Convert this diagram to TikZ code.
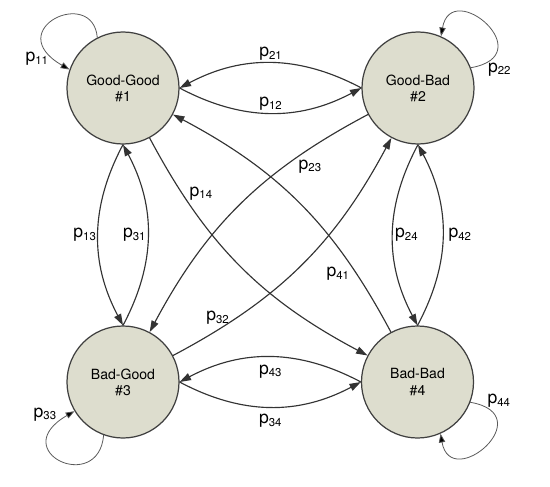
\documentclass[tikz,border=0pt]{standalone}
\usepackage{fontspec}
\setmainfont{TeX Gyre Heros}
\usetikzlibrary{arrows.meta}

\definecolor{statefill}{RGB}{221,221,206}
\newcommand{\plab}[1]{{\fontsize{10}{12}\selectfont p\raisebox{-1.5pt}{\fontsize{6.5}{8}\selectfont #1}}}

\tikzset{
  statenode/.style={circle, draw=black!75, line width=0.7pt, fill=statefill,
    minimum size=2.24cm, inner sep=0pt, align=center,
    font=\fontsize{8}{9.2}\selectfont},
  trans/.style={line width=0.65pt, draw=black!80,
    -{Triangle[length=6.5pt,width=4.2pt]}},
  selfloop/.style={line width=0.45pt, draw=black!65,
    -{Triangle[length=5pt,width=3.6pt,fill=black]}},
  plabel/.style={inner sep=1pt}
}

\begin{document}
\begin{tikzpicture}[line cap=round,line join=round]
\useasboundingbox (0,0) rectangle (11,9.72);

% the four states
\node[statenode] (n1) at (2.46,7.96) {Good-Good\\\#1};
\node[statenode] (n2) at (8.36,7.96) {Good-Bad\\\#2};
\node[statenode] (n3) at (2.46,2.08) {Bad-Good\\\#3};
\node[statenode] (n4) at (8.35,2.08) {Bad-Bad\\\#4};

% opposite pairs between neighbours
\draw[trans] (n2.west) to[bend right=28] node[above,plabel] {\plab{21}} (n1.east);
\draw[trans] (n1.east) to[bend right=28] node[above,plabel] {\plab{12}} (n2.west);
\draw[trans] (n1.south) to[bend right=28] node[left,plabel] {\plab{13}} (n3.north);
\draw[trans] (n3.north) to[bend right=28] node[left,plabel] {\plab{31}} (n1.south);
\draw[trans] (n2.south) to[bend right=28] node[right,plabel] {\plab{24}} (n4.north);
\draw[trans] (n4.north) to[bend right=28] node[right=2pt,plabel] {\plab{42}} (n2.south);
\draw[trans] (n4.west) to[bend right=28] node[below=3pt,plabel] {\plab{43}} (n3.east);
\draw[trans] (n3.east) to[bend right=28] node[below=3pt,plabel] {\plab{34}} (n4.west);

% diagonals
\draw[trans] (n1) to[bend right=17] node[pos=0.19,right=3pt,plabel] {\plab{14}} (n4);
\draw[trans] (n4) to[bend right=17] node[pos=0.2,left=3pt,plabel] {\plab{41}} (n1);
\draw[trans] (n2) to[bend right=17] node[pos=0.2,below=5pt,plabel] {\plab{23}} (n3);
\draw[trans] (n3) to[bend right=17] node[pos=0.15,above=2pt,plabel] {\plab{32}} (n2);

% self loops
\draw[selfloop] (n1.117) .. controls +(95:1.04) and +(150:1.6) ..
  node[pos=0.85,below left,inner sep=0pt] {\plab{11}} (n1.161);
\draw[selfloop] (n2.21) .. controls +(10:1.45) and +(80:1.2) ..
  node[pos=0.1,below right,inner sep=0pt] {\plab{22}} (n2.66);
\draw[selfloop] (n3.250) .. controls +(265:1.2) and +(210:1.6) ..
  node[pos=0.9,above left,plabel] {\plab{33}} (n3.211);
\draw[selfloop] (n4.-21) .. controls +(-10:1.45) and +(280:1.2) ..
  node[pos=0.1,above right,inner sep=0pt] {\plab{44}} (n4.-66);

\end{tikzpicture}
\end{document}
